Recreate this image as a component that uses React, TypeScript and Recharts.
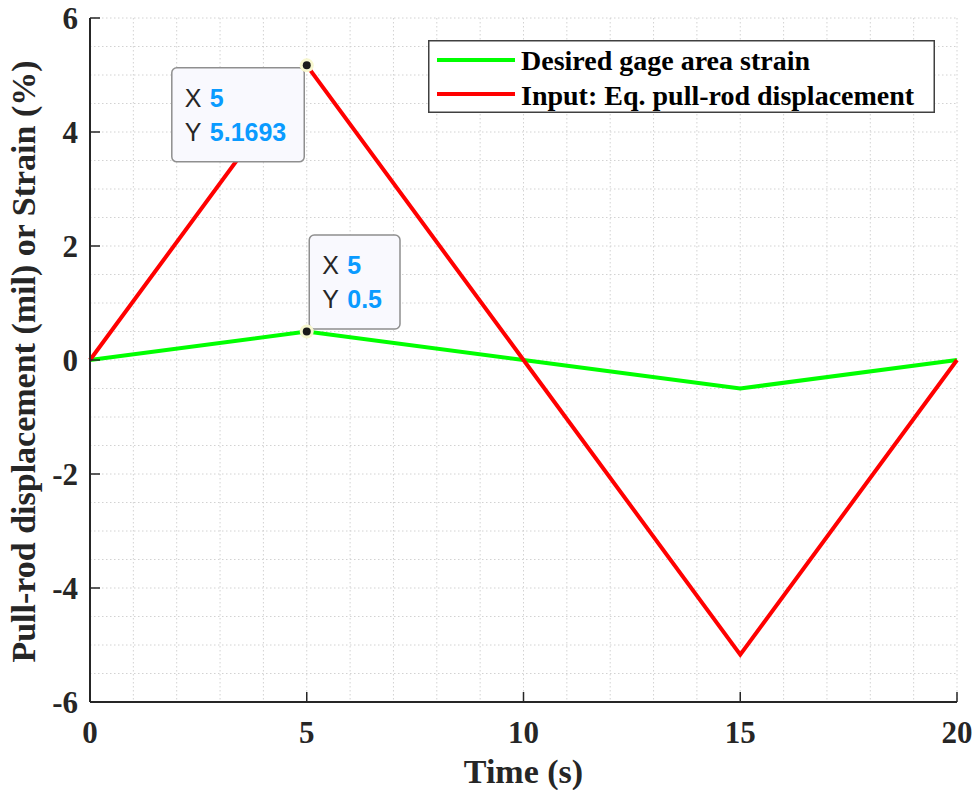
import React from 'react';
import {
  LineChart,
  Line,
  XAxis,
  YAxis,
  CartesianGrid,
  ReferenceDot,
  Legend,
  Label,
} from 'recharts';

// Time samples (s) and the two waveforms
const times = [0, 5, 10, 15, 20];
const gageStrain = [0, 0.5, 0, -0.5, 0];
const pullRodDisp = [0, 5.1693, 0, -5.1693, 0];

const seriesNames = ['Desired gage area strain', 'Input: Eq. pull-rod displacement'];
const seriesColors = ['#00ff00', '#ff0000'];

const xTicks = [0, 5, 10, 15, 20];
const yTicks = [-6, -4, -2, 0, 2, 4, 6];
const xMinorGrid = Array.from({ length: 21 }, (_, i) => i);
const yMinorGrid = Array.from({ length: 25 }, (_, i) => -6 + i * 0.5);

const data = times.map((t, i) => ({ t, strain: gageStrain[i], disp: pullRodDisp[i] }));

// Data tips: which point of which series, and which side the box sits on
const tips = [
  { key: 'disp', index: 1, side: 'below-left' },
  { key: 'strain', index: 1, side: 'above-right' },
];

const SERIF = '"Liberation Serif", "Times New Roman", serif';
const SANS = '"Liberation Sans", Arial, Helvetica, sans-serif';
const INK = '#262626';
const TICK_FONT = 31;
const LABEL_FONT = 34;
const TIP_FONT = 25;

const boldWidth = (s: string) =>
  [...s].reduce((w, c) => w + (c === '.' ? 0.278 : c === '-' ? 0.333 : 0.556), 0) * TIP_FONT;

const BottomTick = (props: any) => {
  const { x, y, payload } = props;
  return (
    <g>
      <line x1={x} x2={x} y1={y} y2={y - 10} stroke={INK} strokeWidth={1.5} />
      <text x={x} y={y + 41} textAnchor="middle" fontFamily={SERIF} fontWeight="bold" fontSize={TICK_FONT} fill={INK}>
        {payload.value}
      </text>
    </g>
  );
};

const TopTick = (props: any) => {
  const { x, y } = props;
  return <line x1={x} x2={x} y1={y} y2={y + 10} stroke={INK} strokeWidth={1.5} />;
};

const LeftTick = (props: any) => {
  const { x, y, payload } = props;
  return (
    <g>
      <line x1={x} x2={x + 10} y1={y} y2={y} stroke={INK} strokeWidth={1.5} />
      <text x={x - 12} y={y + 11} textAnchor="end" fontFamily={SERIF} fontWeight="bold" fontSize={TICK_FONT} fill={INK}>
        {payload.value}
      </text>
    </g>
  );
};

const RightTick = (props: any) => {
  const { x, y } = props;
  return <line x1={x} x2={x - 10} y1={y} y2={y} stroke={INK} strokeWidth={1.5} />;
};

const makeTip = (xVal: number, yVal: number, side: string) => (props: any) => {
  const { cx, cy } = props;
  const xs = String(xVal);
  const ys = String(yVal);
  const w = 13 + 26 + Math.max(boldWidth(xs), boldWidth(ys)) + 17;
  const h = 94;
  const bx = side === 'below-left' ? cx - 2.5 - w : cx + 2.5;
  const by = side === 'below-left' ? cy + 2.5 : cy - 2.5 - h;
  return (
    <g>
      <rect x={bx} y={by} width={w} height={h} rx={5} ry={5} fill="#f9f9fe" stroke="#8f8f8f" strokeWidth={1.5} />
      <text x={bx + 13} y={by + 39} fontFamily={SANS} fontSize={TIP_FONT} fill={INK}>X</text>
      <text x={bx + 38} y={by + 39} fontFamily={SANS} fontSize={TIP_FONT} fontWeight="bold" fill="#0a9bff">{xs}</text>
      <text x={bx + 13} y={by + 73} fontFamily={SANS} fontSize={TIP_FONT} fill={INK}>Y</text>
      <text x={bx + 38} y={by + 73} fontFamily={SANS} fontSize={TIP_FONT} fontWeight="bold" fill="#0a9bff">{ys}</text>
      <circle cx={cx} cy={cy} r={7} fill="#f7f7cf" />
      <circle cx={cx} cy={cy} r={4} fill="#1a1a1a" />
    </g>
  );
};

const LegendBox = (props: any) => {
  const payload = props.payload || [];
  return (
    <svg width={507} height={73} style={{ display: 'block' }}>
      <rect x={0.75} y={0.75} width={505.5} height={71.5} fill="#ffffff" stroke="#404040" strokeWidth={1.5} />
      {payload.map((p: any, i: number) => (
        <g key={i}>
          <line x1={9} x2={87} y1={20 + i * 34} y2={20 + i * 34} stroke={p.color} strokeWidth={4} />
          <text x={93} y={30 + i * 35} fontFamily={SERIF} fontWeight="bold" fontSize={28} fill="#000000">
            {p.value}
          </text>
        </g>
      ))}
    </svg>
  );
};

export default function App() {
  return (
    <div style={{ position: 'absolute', left: 0, top: 0, background: '#ffffff' }}>
      <LineChart width={974} height={790} data={data} margin={{ top: 18, right: 17, left: 0, bottom: 0 }}>
        <CartesianGrid
          xAxisId="x"
          yAxisId="y"
          horizontalValues={yMinorGrid}
          verticalValues={xMinorGrid}
          stroke="#d2d2d2"
          strokeDasharray="1.5 2.5"
          strokeWidth={1}
        />
        <XAxis
          xAxisId="x"
          dataKey="t"
          type="number"
          domain={[0, 20]}
          ticks={xTicks}
          interval={0}
          height={88}
          tickSize={0}
          tickMargin={0}
          tickLine={false}
          axisLine={{ stroke: INK, strokeWidth: 2 }}
          tick={<BottomTick />}
        >
          <Label
            content={(p: any) => {
              const vb = p.viewBox;
              return (
                <text x={vb.x + vb.width / 2} y={vb.y + 81} textAnchor="middle" fontFamily={SERIF} fontWeight="bold" fontSize={LABEL_FONT} fill={INK}>
                  Time (s)
                </text>
              );
            }}
          />
        </XAxis>
        <XAxis
          xAxisId="xt"
          orientation="top"
          dataKey="t"
          type="number"
          domain={[0, 20]}
          ticks={xTicks}
          interval={0}
          height={0}
          tickSize={0}
          tickMargin={0}
          tickLine={false}
          axisLine={{ stroke: INK, strokeWidth: 2 }}
          tick={<TopTick />}
        />
        <YAxis
          yAxisId="y"
          type="number"
          domain={[-6, 6]}
          ticks={yTicks}
          interval={0}
          width={90}
          tickSize={0}
          tickMargin={0}
          tickLine={false}
          axisLine={{ stroke: INK, strokeWidth: 2 }}
          tick={<LeftTick />}
        >
          <Label
            content={(p: any) => {
              const vb = p.viewBox;
              const cx = 35;
              const cy = vb.y + vb.height / 2 + 1.5;
              return (
                <text x={cx} y={cy} transform={`rotate(-90 ${cx} ${cy})`} textAnchor="middle" fontFamily={SERIF} fontWeight="bold" fontSize={LABEL_FONT} fill={INK}>
                  Pull-rod displacement (mil) or Strain (%)
                </text>
              );
            }}
          />
        </YAxis>
        <YAxis
          yAxisId="yr"
          orientation="right"
          type="number"
          domain={[-6, 6]}
          ticks={yTicks}
          interval={0}
          width={0}
          tickSize={0}
          tickMargin={0}
          tickLine={false}
          axisLine={{ stroke: INK, strokeWidth: 2 }}
          tick={<RightTick />}
        />
        <Legend
          layout="horizontal"
          verticalAlign="middle"
          align="center"
          wrapperStyle={{ left: 428, top: 40, width: 507, height: 73 }}
          content={<LegendBox />}
        />
        <Line
          xAxisId="x"
          yAxisId="y"
          name={seriesNames[0]}
          dataKey="strain"
          stroke={seriesColors[0]}
          strokeWidth={4}
          dot={false}
          activeDot={false}
          isAnimationActive={false}
        />
        <Line
          xAxisId="x"
          yAxisId="y"
          name={seriesNames[1]}
          dataKey="disp"
          stroke={seriesColors[1]}
          strokeWidth={4}
          dot={false}
          activeDot={false}
          isAnimationActive={false}
        />
        {tips.map((tp, i) => {
          const xv = times[tp.index];
          const yv = tp.key === 'disp' ? pullRodDisp[tp.index] : gageStrain[tp.index];
          return (
            <ReferenceDot
              key={i}
              xAxisId="x"
              yAxisId="y"
              x={xv}
              y={yv}
              r={4}
              ifOverflow="visible"
              shape={makeTip(xv, yv, tp.side)}
            />
          );
        })}
      </LineChart>
    </div>
  );
}
